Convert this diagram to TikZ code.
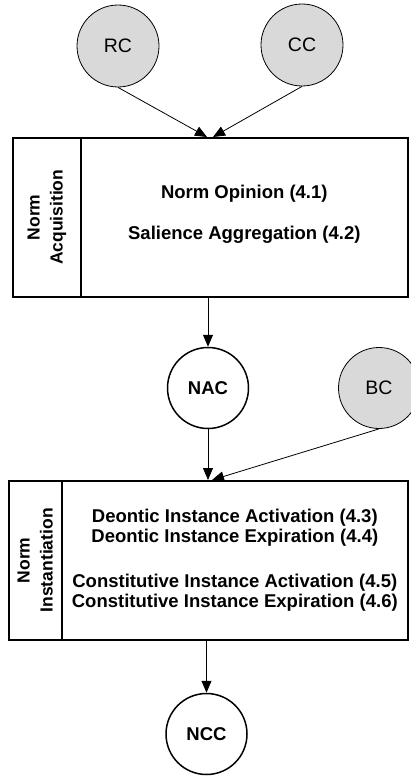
\documentclass[tikz,border=0pt]{standalone}
\usepackage{fontspec}
\setmainfont{Liberation Sans}
\usetikzlibrary{arrows.meta}
\definecolor{cgray}{RGB}{217,217,217}
\begin{document}
\begin{tikzpicture}[x=1pt,y=-1pt,
  graycirc/.style={circle,draw=black,line width=0.8pt,fill=cgray,minimum size=82pt,inner sep=0pt,font=\fontsize{19.5}{21}\selectfont},
  whitecirc/.style={circle,draw=black,line width=1.5pt,fill=white,minimum size=81pt,inner sep=0pt,font=\bfseries\fontsize{18.5}{20}\selectfont},
  labelbox/.style={rectangle,draw=black,line width=1.6pt,inner sep=0pt,anchor=north west},
  bodybox/.style={rectangle,draw=black,line width=1.6pt,inner sep=0pt,anchor=north west},
  sidetext/.style={rotate=90,align=center,font=\bfseries\fontsize{17.5}{23}\selectfont},
  maintext/.style={align=center,font=\bfseries\fontsize{18.5}{20.5}\selectfont},
  arr/.style={-{Triangle[length=12pt,width=10pt]},line width=0.8pt}]
\useasboundingbox (0,0) rectangle (411,776);
% top circles
\node[graycirc] (RC) at (118,46) {RC};
\node[graycirc] (CC) at (302,45) {CC};
% acquisition box
\node[labelbox,minimum width=68pt,minimum height=159pt] (acqlab) at (12,137) {};
\node[bodybox,minimum width=327pt,minimum height=159pt] (acq) at (80,137) {};
\node[sidetext] at (acqlab.center) {Norm\\Acquisition};
\node[maintext] at ([yshift=3pt]acq.center) {Norm Opinion (4.1)\\[20.5pt]Salience Aggregation (4.2)};
\coordinate (in1) at (207,137);
\coordinate (in2) at (213,137);
% middle circles
\node[whitecirc] (NAC) at (208,388) {NAC};
\node[graycirc,minimum size=81pt] (BC) at (379,388) {BC};
% instantiation box
\node[labelbox,minimum width=53pt,minimum height=159pt] (instlab) at (8,480) {};
\node[bodybox,minimum width=346pt,minimum height=159pt] (inst) at (61,480) {};
\node[sidetext] at (instlab.center) {Norm\\Instantiation};
\node[maintext] at (inst.center) {Deontic Instance Activation (4.3)\\Deontic Instance Expiration (4.4)\\[24pt]Constitutive Instance Activation (4.5)\\Constitutive Instance Expiration (4.6)};
\coordinate (in3) at (212,480);
% bottom circle
\node[whitecirc] (NCC) at (206.5,734) {NCC};
% arrows
\draw[arr] (RC.south) -- (in1);
\draw[arr] (CC.south) -- (in2);
\draw[arr] (acq.south -| NAC) -- (NAC.north);
\draw[arr] (NAC.south) -- (inst.north -| NAC);
\draw[arr] (BC.south) -- (in3);
\draw[arr] (inst.south -| NCC) -- (NCC.north);
\end{tikzpicture}
\end{document}
